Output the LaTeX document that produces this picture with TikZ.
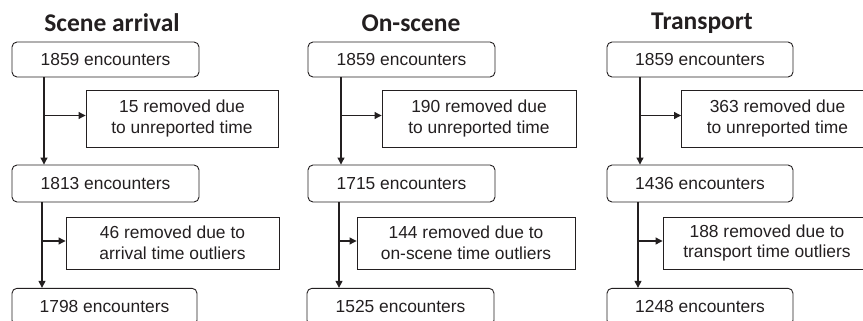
\documentclass[tikz,border=0pt]{standalone}
\usepackage{fontspec}
\setmainfont{Liberation Sans}
\newfontfamily\titlefont{Carlito}
\usetikzlibrary{arrows.meta}
\definecolor{ink}{HTML}{231F20}
\tikzset{
  box/.style={draw=ink, line width=0.9pt, inner sep=0pt, text=ink, align=center,
    font=\fontsize{17.4}{20.5}\selectfont},
  cntbox/.style={box, rounded corners=5pt},
  rembox/.style={box},
  ttl/.style={text=ink, font=\titlefont\bfseries\fontsize{25.5}{28}\selectfont},
  arr/.style={draw=ink, line width=1.1pt, -{Triangle[length=7pt,width=7pt]}}
}
\begin{document}
\begin{tikzpicture}[x=1pt,y=-1pt]
\useasboundingbox (0,0) rectangle (863,321);
\clip (0,0) rectangle (863,321);
% ---------- Panel 1 ----------
\node[ttl] (t1) at (112,23) {Scene arrival};
\node[cntbox, minimum width=187pt, minimum height=35pt] (a1) at (105.5,59.5) {1859 encounters};
\node[rembox, minimum width=192pt, minimum height=57pt] (ar1) at (182,118.5) {15 removed due\\to unreported time};
\node[cntbox, minimum width=187pt, minimum height=37pt] (a2) at (105.5,183.5) {1813 encounters};
\node[rembox, minimum width=213pt, minimum height=52pt] (ar2) at (172.5,243) {46 removed due to\\arrival time outliers};
\node[cntbox, minimum width=185pt, minimum height=37pt] (a3) at (104.5,306.8) {1798 encounters};
\coordinate (ax1) at (44,0);
\coordinate (ax2) at (42,0);
\draw[arr] (a1.south -| ax1) -- (a2.north -| ax1);
\draw[arr] ([yshift=3pt]ar1.west -| ax1) -- ([yshift=3pt]ar1.west);
\draw[arr] (a2.south -| ax2) -- (a3.north -| ax2);
\draw[arr] ([yshift=2pt]ar2.west -| ax2) -- ([yshift=2pt]ar2.west);
% ---------- Panel 2 ----------
\node[ttl] (t2) at (411,23) {On-scene};
\node[cntbox, minimum width=187pt, minimum height=35pt] (b1) at (401.5,59.5) {1859 encounters};
\node[rembox, minimum width=194pt, minimum height=57pt] (br1) at (479,118.5) {190 removed due\\to unreported time};
\node[cntbox, minimum width=187pt, minimum height=37pt] (b2) at (401.5,183.5) {1715 encounters};
\node[rembox, minimum width=218pt, minimum height=52pt] (br2) at (466,243) {144 removed due to\\on-scene time outliers};
\node[cntbox, minimum width=187pt, minimum height=37pt] (b3) at (400.5,306.8) {1525 encounters};
\coordinate (bx1) at (341,0);
\coordinate (bx2) at (339,0);
\draw[arr] (b1.south -| bx1) -- (b2.north -| bx1);
\draw[arr] ([yshift=3pt]br1.west -| bx1) -- ([yshift=3pt]br1.west);
\draw[arr] (b2.south -| bx2) -- (b3.north -| bx2);
\draw[arr] ([yshift=2pt]br2.west -| bx2) -- ([yshift=2pt]br2.west);
% ---------- Panel 3 ----------
\node[ttl] (t3) at (702,23) {Transport};
\node[cntbox, minimum width=186pt, minimum height=35pt] (c1) at (700,59.5) {1859 encounters};
\node[rembox, minimum width=192pt, minimum height=57pt] (cr1) at (777.5,118.5) {363 removed due\\to unreported time};
\node[cntbox, minimum width=186pt, minimum height=37pt] (c2) at (700,183.5) {1436 encounters};
\node[rembox, minimum width=208pt, minimum height=52pt] (cr2) at (767,243) {188 removed due to\\transport time outliers};
\node[cntbox, minimum width=186pt, minimum height=37pt] (c3) at (700,306.8) {1248 encounters};
\coordinate (cx1) at (640,0);
\coordinate (cx2) at (638,0);
\draw[arr] (c1.south -| cx1) -- (c2.north -| cx1);
\draw[arr] ([yshift=3pt]cr1.west -| cx1) -- ([yshift=3pt]cr1.west);
\draw[arr] (c2.south -| cx2) -- (c3.north -| cx2);
\draw[arr] ([yshift=2pt]cr2.west -| cx2) -- ([yshift=2pt]cr2.west);
\end{tikzpicture}
\end{document}
